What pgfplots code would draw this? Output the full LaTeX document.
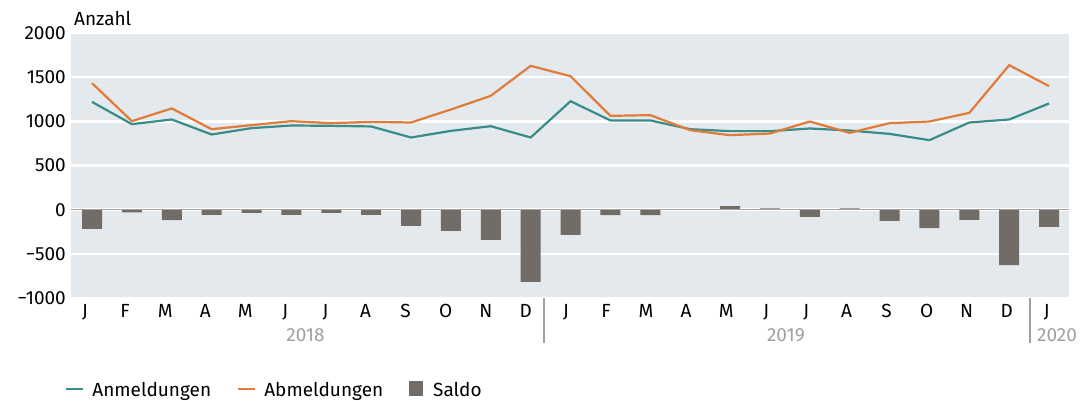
\documentclass[border=0pt]{standalone}
\usepackage{pgfplots}
\pgfplotsset{compat=1.18}
\usepackage{fontspec}
\setmainfont{Fira Sans}
\definecolor{bg}{HTML}{E4E9ED}
\definecolor{tealc}{HTML}{3A8C88}
\definecolor{orng}{HTML}{E07B39}
\definecolor{barc}{HTML}{716C66}
\definecolor{zeroc}{HTML}{A3A3A3}
\definecolor{yrc}{HTML}{A0A0A0}
\newcommand{\fs}{\fontsize{19bp}{22bp}\selectfont}
\begin{document}
\begin{tikzpicture}[x=1bp,y=1bp]
\begin{axis}[
  at={(0,0)}, anchor=south west,
  scale only axis, width=998bp, height=265bp,
  xmin=-0.527, xmax=24.50, ymin=-1000, ymax=2000,
  axis line style={draw=none},
  major tick length=0pt,
  ytick={-1000,-500,0,500,1000,1500,2000},
  yticklabels={−1000,−500,0,500,1000,1500,2000},
  xtick={-0.176,0.829,1.834,2.839,3.844,4.849,5.854,6.859,7.864,8.869,9.874,10.879,11.884,12.889,13.894,14.899,15.904,16.909,17.914,18.919,19.924,20.929,21.934,22.939,23.944},
  xticklabels={J,F,M,A,M,J,J,A,S,O,N,D,J,F,M,A,M,J,J,A,S,O,N,D,J},
  ymajorgrids, grid style={white, line width=2.5bp},
  axis background/.style={fill=bg},
  tick label style={font=\fs, text=black},
  yticklabel style={anchor=east, inner sep=0pt, xshift=-5bp},
  xticklabel style={anchor=base, inner sep=0pt, yshift=-19.5bp},
  clip=false,
  legend style={at={(rel axis cs:0,-0.343)}, xshift=-9bp, anchor=west, draw=none, fill=none,
    font=\fs, legend columns=3,
    /tikz/every even column/.append style={column sep=26bp},
    nodes={inner sep=0pt, text depth=0pt}},
  legend cell align=left,
]
\addplot[tealc, line width=2.2bp, legend image code/.code={\draw[tealc,line width=2.2bp] (0bp,0bp) -- (17bp,0bp); \path (25bp,0bp);}] coordinates {
(0,1220) (1,968) (2,1021) (3,851) (4,923) (5,953) (6,949) (7,942) (8,817) (9,892) (10,945) (11,817)
(12,1228) (13,1010) (14,1010) (15,911) (16,889) (17,889) (18,919) (19,896) (20,858) (21,787) (22,987) (23,1021) (24,1202)};
\addlegendentry{Anmeldungen}
\addplot[orng, line width=2.2bp, legend image code/.code={\draw[orng,line width=2.2bp] (0bp,0bp) -- (17bp,0bp); \path (25bp,0bp);}] coordinates {
(0,1432) (1,1002) (2,1146) (3,911) (4,957) (5,1002) (6,979) (7,994) (8,987) (9,1134) (10,1289) (11,1628)
(12,1511) (13,1062) (14,1070) (15,900) (16,843) (17,862) (18,998) (19,870) (20,979) (21,998) (22,1096) (23,1636) (24,1398)};
\addlegendentry{Abmeldungen}
\addplot[ybar, bar width=20bp, fill=barc, draw=none, legend image code/.code={\fill[barc] (0bp,-7.5bp) rectangle (14bp,7.5bp); \path (24bp,0bp);}] coordinates {
(0,-217) (1,-32) (2,-119) (3,-59) (4,-36) (5,-59) (6,-36) (7,-59) (8,-183) (9,-240) (10,-342) (11,-817)
(12,-285) (13,-62) (14,-62) (15,5) (16,40) (17,15) (18,-81) (19,15) (20,-127) (21,-209) (22,-115) (23,-628) (24,-195)};
\addlegendentry{Saldo}
\draw[zeroc, line width=1.5bp] (axis cs:-0.527,0) -- (axis cs:24.50,0);
\draw[yrc, line width=1.5bp] (axis cs:11.34,-1000) -- ([yshift=-45bp]axis cs:11.34,-1000);
\draw[yrc, line width=1.5bp] (axis cs:23.52,-1000) -- ([yshift=-45bp]axis cs:23.52,-1000);
\node[font=\fs, text=yrc, anchor=base, inner sep=0pt] at ([yshift=-43.5bp]axis cs:5.354,-1000) {2018};
\node[font=\fs, text=yrc, anchor=base, inner sep=0pt] at ([yshift=-43.5bp]axis cs:17.40,-1000) {2019};
\node[font=\fs, text=yrc, anchor=base west, inner sep=0pt] at ([yshift=-43.5bp, xshift=7bp]axis cs:23.52,-1000) {2020};
\node[font=\fs, anchor=base west, inner sep=0pt] at ([yshift=7bp, xshift=3bp]rel axis cs:0,1) {Anzahl};
\end{axis}
\pgfresetboundingbox
\path[use as bounding box] (-71bp,-103bp) rectangle (1020bp,298bp);
\end{tikzpicture}
\end{document}
